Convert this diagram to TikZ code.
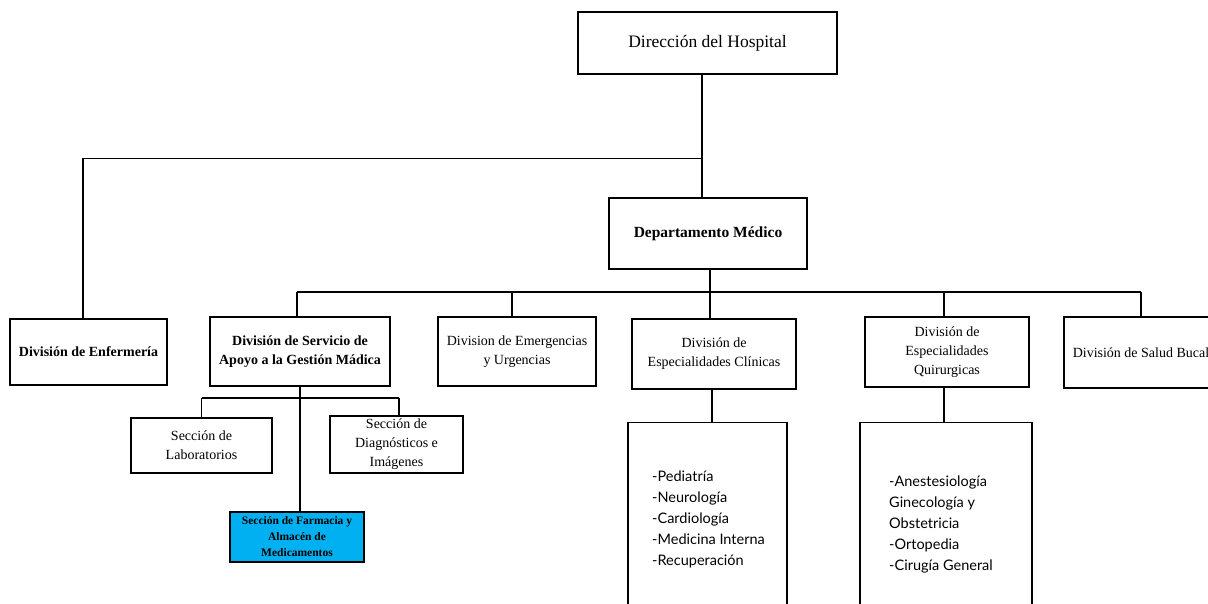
\documentclass[tikz,border=0pt]{standalone}
\usepackage{fontspec}
\setmainfont{Liberation Serif}
\newfontfamily\listfont{Lato}
\usetikzlibrary{calc}
\definecolor{farmblue}{HTML}{00B0F0}
\tikzset{
  box/.style={draw=black, line width=1.3pt, fill=white, align=center, inner sep=0pt},
  conn/.style={draw=black, line width=1.2pt},
  divtext/.style={font=\fontsize{14}{19}\selectfont},
  divbold/.style={font=\fontsize{14}{19}\selectfont\bfseries},
  listtext/.style={font=\listfont\fontsize{14.5}{20.8}\selectfont, align=left, anchor=base west, inner sep=0pt},
}
\begin{document}
\begin{tikzpicture}[x=1pt,y=-1pt]
\useasboundingbox (0,0) rectangle (1208,604);
\clip (0,0) rectangle (1208,604);
\fill[white] (0,0) rectangle (1208,604);

% top level
\node[box, minimum width=259pt, minimum height=62pt, font=\fontsize{17.5}{21}\selectfont] (dir) at (707.5,43) {Dirección del Hospital};
\node[box, minimum width=198pt, minimum height=71pt, font=\fontsize{15.5}{19}\selectfont\bfseries] (dep) at (708,233.5) {Departamento Médico};

% divisions
\node[box, divbold, minimum width=157pt, minimum height=66pt] (enf) at (88.5,352) {División de Enfermería};
\node[box, divbold, minimum width=180pt, minimum height=69pt] (serv) at (300,351.5) {División de Servicio de\\Apoyo a la Gestión Mádica};
\node[box, divtext, minimum width=158pt, minimum height=69pt] (emer) at (517,351.5) {Division de Emergencias\\y Urgencias};
\node[box, divtext, minimum width=164pt, minimum height=70pt] (clin) at (714,354) {División de\\Especialidades Clínicas};
\node[box, divtext, minimum width=164pt, minimum height=70pt] (quir) at (947,352) {División de\\Especialidades\\Quirurgicas};
\node[box, divtext, minimum width=154pt, minimum height=71pt] (bucal) at (1141,352.5) {División de Salud Bucal};

% sections
\node[box, divtext, minimum width=141pt, minimum height=55pt] (lab) at (201.5,445.5) {Sección de\\Laboratorios};
\node[box, divtext, minimum width=133pt, minimum height=57pt] (diag) at (396.5,444.5) {Sección de\\Diagnósticos e\\Imágenes};
\node[box, fill=farmblue, minimum width=134pt, minimum height=50pt, font=\fontsize{11.5}{16}\selectfont\bfseries] (farm) at (297,537) {Sección de Farmacia y\\Almacén de\\Medicamentos};

% lists
\node[box, minimum width=159pt, minimum height=200pt, anchor=north] (listc) at (707.5,422) {};
\node[box, minimum width=172pt, minimum height=200pt, anchor=north] (listq) at (946,422) {};
\node[listtext] (listctext) at (652,565) {-Pediatría\\-Neurología\\-Cardiología\\-Medicina Interna\\-Recuperación};
\node[listtext] (listqtext) at (889,570) {-Anestesiología\\Ginecología y\\Obstetricia\\-Ortopedia\\-Cirugía General};

% connectors
\coordinate (topbus) at ($(dir.south)+(-5.5,84)$);
\coordinate (enfline) at ($(enf.north)+(-5.5,0)$);
\draw[conn] ([xshift=-5.5pt]dir.south) -- ([xshift=-5.5pt]dir.south |- dep.north);
\draw[conn] (topbus) -- (topbus -| enfline) -- (enfline);

\coordinate (midbus) at (0,292);
\coordinate (servline) at ($(serv.north)+(-3,0)$);
\coordinate (emerline) at ($(emer.north)+(-5,0)$);
\coordinate (quirline) at ($(quir.north)+(-3,0)$);
\draw[conn] (midbus -| servline) -- (midbus -| bucal.north);
\draw[conn] ([xshift=2pt]dep.south) -- ([xshift=2pt]dep.south |- clin.north);
\draw[conn] (midbus -| servline) -- (servline);
\draw[conn] (midbus -| emerline) -- (emerline);
\draw[conn] (midbus -| quirline) -- (quirline);
\draw[conn] (midbus -| bucal.north) -- (bucal.north);

\coordinate (servbus) at (0,398);
\coordinate (diagline) at ($(diag.north)+(2.5,0)$);
\draw[conn] (serv.south) -- (serv.south |- farm.north);
\draw[conn] (servbus -| lab.north) -- (servbus -| diagline);
\draw[conn] (servbus -| lab.north) -- (lab.north);
\draw[conn] (servbus -| diagline) -- (diagline);

\draw[conn] ([xshift=-2pt]clin.south) -- ([xshift=-2pt]clin.south |- listc.north);
\draw[conn] ([xshift=-3pt]quir.south) -- ([xshift=-3pt]quir.south |- listq.north);
\end{tikzpicture}
\end{document}
